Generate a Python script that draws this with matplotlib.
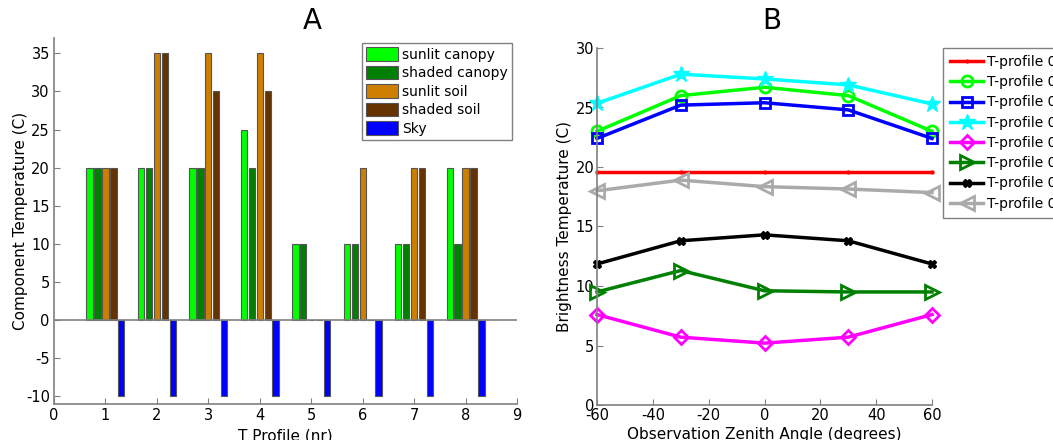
import matplotlib
matplotlib.use('Agg')
import matplotlib.pyplot as plt
import numpy as np

# panel A: component temperatures per T profile
profiles = [1, 2, 3, 4, 5, 6, 7, 8]
comp_names = ['sunlit canopy', 'shaded canopy', 'sunlit soil', 'shaded soil', 'Sky']
sunlit_canopy = [20, 20, 20, 25, 10, 10, 10, 20]
shaded_canopy = [20, 20, 20, 20, 10, 10, 10, 10]
sunlit_soil = [20, 35, 35, 35, 0, 20, 20, 20]
shaded_soil = [20, 35, 30, 30, 0, 0, 20, 20]
sky = [-10, -10, -10, -10, -10, -10, -10, -10]
comp_colors = ['#00ff00', '#008000', '#cc7f00', '#663300', '#0000ff']

# panel B: brightness temperature vs view zenith angle
angles = [-60, -30, 0, 30, 60]
tp01 = [19.6, 19.6, 19.6, 19.6, 19.6]
tp02 = [23.0, 26.0, 26.7, 26.0, 23.0]
tp03 = [22.4, 25.2, 25.4, 24.8, 22.4]
tp04 = [25.35, 27.8, 27.4, 26.9, 25.3]
tp05 = [7.6, 5.7, 5.2, 5.7, 7.6]
tp06 = [9.5, 11.3, 9.6, 9.5, 9.5]
tp07 = [11.85, 13.8, 14.3, 13.8, 11.85]
tp08 = [18.0, 18.9, 18.35, 18.15, 17.85]
tp_labels = ['T-profile 01', 'T-profile 02', 'T-profile 03', 'T-profile 04',
             'T-profile 05', 'T-profile 06', 'T-profile 07', 'T-profile 08']

plt.rcParams['font.family'] = 'DejaVu Sans'
plt.rcParams['font.size'] = 10
plt.rcParams['axes.unicode_minus'] = False

fig = plt.figure(figsize=(10.53, 4.40), dpi=100)
axis_grey = '#808080'

# ---- A ----
ax1 = fig.add_axes([54/1053, 1-404/440, (517-54)/1053, (404-38)/440])
series = [sunlit_canopy, shaded_canopy, sunlit_soil, shaded_soil, sky]
slot = 0.769 / 5
x = np.array(profiles, dtype=float)
bars = []
for i, vals in enumerate(series):
    off = (i - 2) * slot
    b = ax1.bar(x + off, vals, width=slot*0.8, color=comp_colors[i],
                edgecolor='#555555', linewidth=0.8, label=comp_names[i], zorder=2)
    bars.append(b)
ax1.axhline(0, color=axis_grey, lw=1.2, zorder=3)
ax1.set_xlim(0, 9)
ax1.set_ylim(-11, 37)
ax1.set_xticks(range(0, 10))
ax1.set_yticks(range(-10, 36, 5))
ax1.set_xlabel('T Profile (nr)', fontsize=11)
ax1.set_ylabel('Component Temperature (C)', fontsize=11)
ax1.xaxis.set_label_coords(0.5, -0.066)
ax1.yaxis.set_label_coords(-0.073, 0.5)
ax1.yaxis.label.set_va('center')
for s in ['top', 'right']:
    ax1.spines[s].set_visible(False)
for s in ['left', 'bottom']:
    ax1.spines[s].set_color(axis_grey)
    ax1.spines[s].set_linewidth(1.2)
ax1.tick_params(direction='in', length=4, color=axis_grey, labelsize=10.5, pad=3)
fig.legend(handles=bars, labels=comp_names, loc='upper right',
           bbox_to_anchor=(512/1053, 1-43/440),
           bbox_transform=fig.transFigure, borderaxespad=0, fancybox=False,
           edgecolor=axis_grey, framealpha=1, fontsize=10,
           handlelength=2.3, handleheight=1.1, handletextpad=0.3,
           labelspacing=0.3, borderpad=0.3)
fig.text(312/1053, 1-29/440, 'A', fontsize=20, ha='center', va='baseline')

# ---- B ----
ax2 = fig.add_axes([597/1053, 1-405/440, (932-597)/1053, (405-48)/440])
line_data = [tp01, tp02, tp03, tp04, tp05, tp06, tp07, tp08]
line_colors = ['#ff0000', '#00ff00', '#0000ff', '#00ffff', '#ff00ff',
               '#008000', '#000000', '#aaaaaa']
line_markers = ['.', 'o', 's', '*', 'D', '>', 'X', '<']
line_msize = [4, 8, 7, 12, 7, 10, 6, 10]
handles = []
for vals, c, m, ms, lab in zip(line_data, line_colors, line_markers, line_msize, tp_labels):
    filled = m in ('.', '*', 'X')
    h, = ax2.plot(angles, vals, color=c, lw=2.5, marker=m, markersize=ms,
                  markerfacecolor=c if filled else 'none', markeredgecolor=c,
                  markeredgewidth=2 if not filled else 1, label=lab, clip_on=False)
    handles.append(h)
ax2.set_xlim(-60, 60)
ax2.set_ylim(0, 30)
ax2.set_xticks(range(-60, 61, 20))
ax2.set_yticks(range(0, 31, 5))
ax2.set_xlabel('Observation Zenith Angle (degrees)', fontsize=11)
ax2.set_ylabel('Brightness Temperature (C)', fontsize=11)
ax2.xaxis.set_label_coords(0.5, -0.062)
ax2.yaxis.set_label_coords(-0.096, 0.5)
ax2.yaxis.label.set_va('center')
for s in ['top', 'right']:
    ax2.spines[s].set_visible(False)
for s in ['left', 'bottom']:
    ax2.spines[s].set_color(axis_grey)
    ax2.spines[s].set_linewidth(1.2)
ax2.tick_params(direction='in', length=4, color=axis_grey, labelsize=10.5, pad=2)
fig.legend(handles=handles, loc='upper left', bbox_to_anchor=(943/1053, 1-48/440),
           bbox_transform=fig.transFigure, borderaxespad=0, fancybox=False,
           edgecolor=axis_grey, framealpha=1, fontsize=10,
           handlelength=2.4, handletextpad=0.3, labelspacing=0.45, borderpad=0.5)
fig.text(772/1053, 1-29/440, 'B', fontsize=20, ha='center', va='baseline')

fig.savefig('out.png', dpi=100)
